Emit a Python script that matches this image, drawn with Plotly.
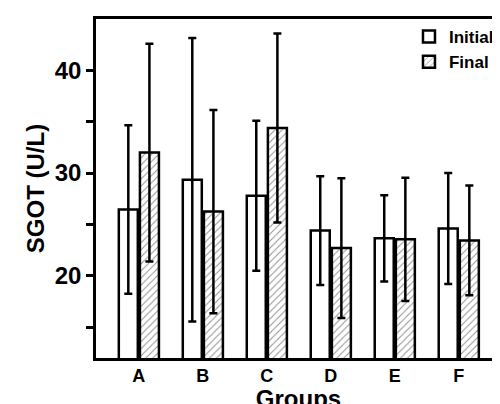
import plotly.graph_objects as go

groups = ["A", "B", "C", "D", "E", "F"]
initial = [26.45, 29.35, 27.8, 24.4, 23.65, 24.6]
initial_err = [8.2, 13.8, 7.3, 5.3, 4.2, 5.4]
final = [32.0, 26.25, 34.4, 22.7, 23.55, 23.45]
final_err = [10.6, 9.9, 9.2, 6.8, 6.0, 5.35]

font = "Liberation Sans, Arial, sans-serif"
fig = go.Figure()
fig.add_bar(x=groups, y=initial, name="Initial",
            marker=dict(color="white", line=dict(color="black", width=2.5)),
            error_y=dict(type="data", array=initial_err, color="black", thickness=2.5, width=4))
fig.add_bar(x=groups, y=final, name="Final",
            marker=dict(color="white", line=dict(color="black", width=2.5),
                        pattern=dict(shape="/", fgcolor="#222", bgcolor="white", size=5, solidity=0.2)),
            error_y=dict(type="data", array=final_err, color="black", thickness=2.5, width=4))

fig.update_layout(
    width=500, height=404, margin=dict(l=88, r=7, t=11, b=54),
    plot_bgcolor="white", paper_bgcolor="white",
    barmode="group", bargap=0.34, bargroupgap=0.1,
    font=dict(family=font, color="black"),
    showlegend=True,
    legend=dict(x=0.995, y=1.0, xanchor="right", yanchor="top",
                font=dict(size=17, family=font, weight="bold"), bgcolor="rgba(0,0,0,0)",
                tracegroupgap=0, itemwidth=30),
    xaxis=dict(range=[-0.67, 5.66], showline=True, linecolor="black", linewidth=2.5, mirror=True,
               ticks="", tickfont=dict(size=18, weight="bold"), automargin=False,
               title=dict(text="Groups", font=dict(size=24, weight="bold"), standoff=4)),
    yaxis=dict(range=[12, 45], showline=True, linecolor="black", linewidth=2.5, mirror=True,
               tickvals=[20, 30, 40], ticks="outside", ticklen=7, tickwidth=2.5, tickcolor="black",
               tickfont=dict(size=24, weight="bold"), showgrid=False, zeroline=False, automargin=False,
               minor=dict(tickvals=[15, 25, 35], ticks="outside", ticklen=7, tickwidth=2.5, tickcolor="black"),
               title=dict(text="SGOT (U/L)", font=dict(size=24, weight="bold"), standoff=4)),
)
fig.write_html("out.html")
